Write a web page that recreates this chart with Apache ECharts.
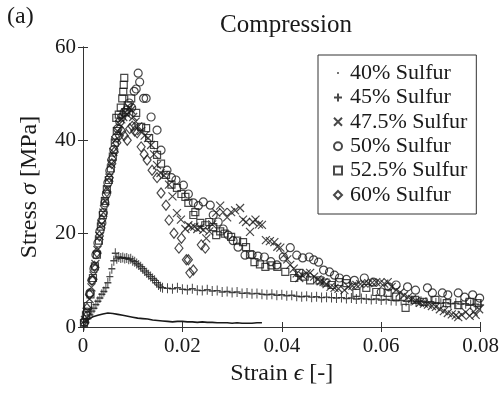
<!DOCTYPE html>
<html><head><meta charset="utf-8">
<script src="https://cdn.jsdelivr.net/npm/echarts@6/dist/echarts.min.js"></script>
<style>html,body{margin:0;padding:0;background:#fff}#c{width:502px;height:394px}</style>
</head><body><div id="c"></div>
<script>
// ---- data (strain, stress MPa) ----
const names = ['40% Sulfur','45% Sulfur','47.5% Sulfur','50% Sulfur','52.5% Sulfur','60% Sulfur'];
const xTicks = [0, 0.02, 0.04, 0.06, 0.08];
const yTicks = [0, 20, 40, 60];

const s40 = [[0,0.8],[0.0005,1.2],[0.001,1.6],[0.0015,1.9],[0.002,2.2],[0.003,2.5],[0.004,2.8],[0.005,3.0],[0.006,2.9],[0.007,2.7],[0.008,2.5],[0.009,2.3],[0.010,2.1],[0.011,1.9],[0.012,1.8],[0.013,1.7],[0.014,1.5],[0.015,1.4],[0.016,1.3],[0.017,1.2],[0.018,1.1],[0.019,1.2],[0.020,1.2],[0.021,1.1],[0.022,1.1],[0.023,1.0],[0.024,1.1],[0.025,1.0],[0.026,1.0],[0.027,0.9],[0.028,0.9],[0.029,0.9],[0.030,0.8],[0.031,0.9],[0.032,0.8],[0.033,0.8],[0.034,0.8],[0.035,0.9],[0.036,0.9]];

const s45 = [[0.0002,0.3],[0.0006,1.0],[0.001,1.8],[0.0014,2.6],[0.0018,3.4],[0.0022,4.0],[0.0026,4.8],[0.003,5.5],[0.0034,6.2],[0.0038,7.0],[0.0042,7.6],[0.0046,8.4],[0.005,9.5],[0.0054,10.8],[0.0058,12.5],[0.0062,14.2],[0.0065,15.8],[0.0068,14.6],[0.0072,15.0],[0.0076,14.8],[0.008,14.9],[0.0084,14.7],[0.0088,14.8],[0.0092,14.5],[0.0096,14.6],[0.01,14.2],[0.0104,14.0],[0.0108,13.6],[0.0112,13.3],[0.0116,12.9],[0.012,12.5],[0.0124,12.0],[0.0128,11.6],[0.0132,11.2],[0.0136,10.8],[0.014,10.4],[0.0144,10.0],[0.0148,9.5],[0.0152,9.0],[0.0156,8.6],[0.016,8.4],
[0.017,8.3],[0.018,8.2],[0.019,8.4],[0.020,8.1],[0.021,8.0],[0.022,8.2],[0.023,7.9],[0.024,7.8],[0.025,8.0],[0.026,7.7],[0.027,7.8],[0.028,7.5],[0.029,7.6],[0.030,7.4],[0.031,7.5],[0.032,7.2],[0.033,7.3],[0.034,7.1],[0.035,7.2],[0.036,7.0],[0.037,6.9],[0.038,7.0],[0.039,6.8],[0.040,6.9],[0.041,6.7],[0.042,6.8],[0.043,6.6],[0.044,6.5],[0.045,6.6],[0.046,6.4],[0.047,6.5],[0.048,6.3],[0.049,6.4],[0.050,6.3],[0.051,6.2],[0.052,6.3],[0.053,6.1],[0.054,6.2],[0.055,6.0],[0.056,6.1],[0.057,6.0],[0.058,5.9],[0.059,6.0],[0.060,5.8],[0.061,5.9],[0.062,5.7],[0.063,5.6],[0.064,5.7],[0.065,5.5],[0.066,5.6],[0.067,5.4],[0.068,5.5],[0.069,5.3],[0.070,5.4],[0.071,5.2],[0.072,5.1],[0.073,5.2],[0.074,5.0],[0.075,5.1],[0.076,4.9],[0.077,5.0],[0.078,4.8],[0.079,4.9],[0.080,4.7]];

const s475 = [[0.0004,1.5],[0.0009,3.5],[0.0013,6],[0.0017,8.5],[0.0021,11],[0.0025,13.5],[0.0029,16.5],[0.0033,19.5],[0.0037,22],[0.0041,24.5],[0.0045,27],[0.0049,29.5],[0.0053,32],[0.0057,35],[0.0061,37.5],[0.0065,40],[0.0069,42],[0.0073,43.5],[0.0077,44.5],[0.0081,45],[0.0085,46],[0.0089,45.5],[0.0093,47],[0.0097,46.5],[0.0101,45],[0.0106,44],[0.0111,43],[0.0117,42],[0.0124,41],[0.0131,40.5],[0.0137,39],[0.0143,37],[0.0149,34.7],[0.0156,33],[0.0163,32.5],[0.0173,30.5],[0.018,28],[0.0189,24.4],[0.0197,23],[0.0206,21],[0.0212,21.8],[0.0218,21.4],[0.0224,21.5],[0.023,21],[0.0236,21.3],[0.0242,20.8],[0.0248,19],[0.0254,20.5],[0.026,22],[0.0268,24.5],[0.0276,26],[0.0282,24.6],[0.029,23.5],[0.0298,24.6],[0.0306,25],[0.0316,25.5],[0.0322,23],[0.0328,22.5],[0.0336,20.4],[0.0342,22.5],[0.0347,23],[0.0354,22],[0.036,21.9],[0.0368,18.6],[0.0376,18.4],[0.0385,18.2],[0.0391,17.2],[0.0397,17],[0.0405,15.5],[0.0411,14.5],[0.0417,13.3],[0.0424,12.5],[0.043,11.5],[0.0435,10.5],[0.0442,11],[0.045,11.5],[0.0457,11.6],[0.0465,10.8],[0.0472,10.2],[0.0478,9.8],[0.0484,9.6],[0.049,9.2],[0.0498,8.6],[0.0506,8.4],[0.0514,8.2],[0.0526,7.9],[0.0534,8.6],[0.0542,8.8],[0.055,9],[0.0558,9.2],[0.0566,9.3],[0.0574,9.4],[0.0582,9.5],[0.059,9.6],[0.0598,9.5],[0.0606,9.3],[0.0613,9.6],[0.0621,8.6],[0.063,7.9],[0.0638,7.4],[0.0646,6.8],[0.0654,6.4],[0.0662,6],[0.067,5.6],[0.0678,5.2],[0.0686,5],[0.0694,4.8],[0.0702,4.5],[0.071,4.3],[0.0718,3.8],[0.0726,3.4],[0.0734,3.0],[0.0742,2.7],[0.075,2.5],[0.0755,2.1],[0.0762,2.6],[0.077,3.2],[0.0778,2.4],[0.0786,3.3],[0.079,2.6],[0.0797,3.8]];

const s50 = [[0.0003,1],[0.0008,3.2],[0.0014,7.3],[0.0018,10],[0.0022,12.5],[0.0026,15.5],[0.003,18],[0.0034,20.5],[0.0038,22.3],[0.0041,24.5],[0.0044,26.6],[0.0047,28.5],[0.005,30.9],[0.0054,33.5],[0.0058,35.8],[0.0062,38],[0.0066,40.5],[0.007,42.5],[0.0074,44],[0.0078,45],[0.0083,46],[0.0088,46.5],[0.0093,48],[0.0098,47],[0.0103,50.5],[0.0107,51],[0.0111,54.4],[0.0114,52.5],[0.0122,49],[0.0127,49],[0.0137,45],[0.0149,42.2],[0.0157,37.9],[0.0169,33.6],[0.0178,32],[0.0187,31.5],[0.0202,30.4],[0.0212,28.5],[0.0222,26.6],[0.0232,26],[0.0242,26.8],[0.0256,26.1],[0.0262,24],[0.0272,22.5],[0.0282,21],[0.0292,19.7],[0.0302,18.5],[0.0312,17.1],[0.0326,15.4],[0.034,15.5],[0.0352,15.2],[0.0365,15],[0.0378,14],[0.039,13.3],[0.0403,15],[0.0417,17],[0.043,15.4],[0.0442,14.8],[0.0455,15],[0.0464,14.4],[0.0474,13.9],[0.0484,12.2],[0.0496,11.8],[0.0506,11.1],[0.0516,10.5],[0.053,10.2],[0.0546,10],[0.0566,10.5],[0.0584,9.6],[0.06,7.5],[0.0615,8.6],[0.063,9],[0.0653,8.6],[0.0669,7.9],[0.0693,8.4],[0.0703,7.3],[0.0723,7.3],[0.0734,6.9],[0.0755,7.3],[0.0768,6.4],[0.0784,6.9],[0.0798,6.2]];

const s525 = [[0.0002,0.8],[0.0006,2.5],[0.001,4.5],[0.0015,7],[0.002,10.5],[0.0024,13],[0.0028,15.5],[0.0032,18.5],[0.0036,21.5],[0.004,24],[0.0044,27],[0.0048,29.5],[0.0052,31.5],[0.0056,34],[0.006,36.5],[0.0064,39.5],[0.0067,44.8],[0.0068,42],[0.0072,45.5],[0.0076,47],[0.0079,49],[0.0081,50.4],[0.0082,51.9],[0.0083,53.4],[0.0086,46],[0.009,47.5],[0.0097,49],[0.0107,45.9],[0.0117,42.9],[0.0127,42.6],[0.0133,40.5],[0.0143,39],[0.0149,36.9],[0.0157,35],[0.0167,32.6],[0.0178,30.5],[0.0189,29.8],[0.0198,28.5],[0.0206,27.9],[0.0212,26.6],[0.0222,24],[0.0226,24.6],[0.0236,22.3],[0.0246,21.8],[0.0254,22.5],[0.0262,21.4],[0.0268,19.7],[0.0276,20.5],[0.0285,20],[0.0298,19.3],[0.031,18.5],[0.0322,18.2],[0.0328,17.1],[0.0336,15.5],[0.0345,13.9],[0.0356,13.4],[0.0367,12.9],[0.0379,13.2],[0.0391,12.9],[0.0407,11.8],[0.0425,10.5],[0.0435,11.6],[0.0446,10.8],[0.0457,10],[0.0476,10],[0.0488,9.5],[0.05,9],[0.0515,9.6],[0.053,9.4],[0.055,7.3],[0.057,8.4],[0.059,7.5],[0.0613,7.3],[0.063,6.5],[0.0649,4.1],[0.0668,5.8],[0.0685,5.4],[0.0709,5.8],[0.0732,5.1],[0.0755,4.7],[0.0778,5.4],[0.0794,5.1]];

const s60 = [[0.0003,1.5],[0.0008,4],[0.0013,7],[0.0018,10],[0.0023,13],[0.0028,16],[0.0033,19.5],[0.0038,23],[0.0043,26],[0.0048,29],[0.0053,32],[0.0058,35],[0.0063,37.5],[0.0068,39.5],[0.0073,41],[0.0078,42],[0.0083,41],[0.0089,40],[0.0094,42.5],[0.0099,43],[0.0104,42],[0.0109,41.6],[0.0117,38.6],[0.0123,37],[0.0129,35.8],[0.0139,33.6],[0.0149,32],[0.0157,28.7],[0.0167,26.1],[0.0173,22.9],[0.0183,20.1],[0.0193,16.9],[0.0198,19],[0.0208,14.4],[0.0212,14.4],[0.0215,11.6],[0.0222,12.2],[0.0238,17.6],[0.0246,16.9]];

// ---- styling ----
const FONT = "'Liberation Serif', 'Times New Roman', serif";
const INK = '#1a1a1a';
const P_PLUS = 'path://M5,0L5,10M0,5L10,5';
const P_X = 'path://M0,0L10,10M10,0L0,10';
const P_DOT = 'path://M0,0M10,10M4,4L6,4L6,6L4,6Z';
const hollow = {color: 'rgba(0,0,0,0)', borderColor: INK, borderWidth: 1.2};

const chart = echarts.init(document.getElementById('c'), null, {renderer: 'canvas'});
const axisCommon = {
  type: 'value', splitLine: {show: false},
  axisLine: {show: true, lineStyle: {color: '#333', width: 1}},
  axisTick: {show: true, inside: true, length: 5, lineStyle: {color: '#333'}}
};
const richName = {a: {fontFamily: FONT, fontSize: 24, color: INK}, b: {fontFamily: FONT, fontSize: 24, fontStyle: 'italic', color: INK}};
chart.setOption({
  animation: false,
  backgroundColor: '#fff',
  title: {text: 'Compression', left: 281, textAlign: 'center', top: 8,
    textStyle: {fontFamily: FONT, fontSize: 25, fontWeight: 'normal', color: INK}},
  graphic: [{type: 'text', left: 7, top: 5, style: {text: '(a)', fontFamily: FONT, fontSize: 24, fill: INK}}],
  grid: {left: 83, right: 16, top: 47, bottom: 67},
  xAxis: [
    Object.assign({}, axisCommon, {position: 'bottom', min: xTicks[0], max: xTicks[xTicks.length-1], interval: xTicks[1]-xTicks[0],
      axisLabel: {fontFamily: FONT, fontSize: 21, color: INK, margin: 9},
      name: '{a|Strain }{b|ϵ}{a| [-]}', nameLocation: 'middle', nameGap: 33,
      nameTextStyle: {rich: richName}}),
    Object.assign({}, axisCommon, {position: 'top', min: xTicks[0], max: xTicks[xTicks.length-1], interval: xTicks[1]-xTicks[0], axisLabel: {show: false}})
  ],
  yAxis: [
    Object.assign({}, axisCommon, {position: 'left', min: yTicks[0], max: yTicks[yTicks.length-1], interval: yTicks[1]-yTicks[0],
      axisLabel: {fontFamily: FONT, fontSize: 21, color: INK, margin: 7},
      name: '{a|Stress }{b|σ}{a| [MPa]}', nameLocation: 'middle', nameGap: 41,
      nameTextStyle: {rich: richName}}),
    Object.assign({}, axisCommon, {position: 'right', min: yTicks[0], max: yTicks[yTicks.length-1], interval: yTicks[1]-yTicks[0], axisLabel: {show: false}})
  ],
  legend: {
    orient: 'vertical', left: 318, top: 55,
    padding: [7, 9, 8, 15], itemGap: 2.4, itemWidth: 8, itemHeight: 8,
    borderColor: '#333', borderWidth: 1, backgroundColor: '#fff',
    textStyle: {fontFamily: FONT, fontSize: 22, color: INK, lineHeight: 22, padding: [0, 0, 0, 3]},
    data: [
      {name: names[0], icon: P_DOT},
      {name: names[1], icon: P_PLUS},
      {name: names[2], icon: P_X},
      {name: names[3], icon: 'circle'},
      {name: names[4], icon: 'rect'},
      {name: names[5], icon: 'diamond'}
    ]
  },
  series: [
    {name: names[0], type: 'line', data: s40, symbol: 'none', lineStyle: {color: INK, width: 1.6}, itemStyle: {color: INK}, z: 3},
    {name: names[1], type: 'scatter', data: s45, symbol: P_PLUS, symbolSize: [7, 10], itemStyle: hollow},
    {name: names[2], type: 'scatter', data: s475, symbol: P_X, symbolSize: 8, itemStyle: hollow},
    {name: names[3], type: 'scatter', data: s50, symbol: 'circle', symbolSize: 8, itemStyle: hollow},
    {name: names[4], type: 'scatter', data: s525, symbol: 'rect', symbolSize: 7, itemStyle: hollow},
    {name: names[5], type: 'scatter', data: s60, symbol: 'diamond', symbolSize: [8, 10], itemStyle: hollow}
  ]
});
</script></body></html>
